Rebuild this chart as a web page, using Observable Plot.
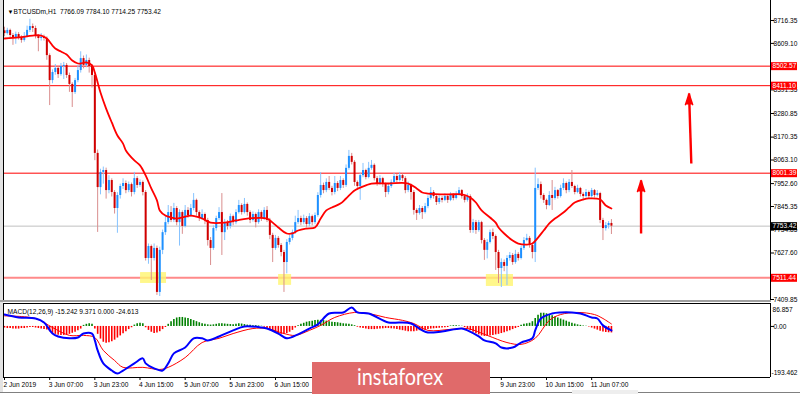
<!DOCTYPE html>
<html><head><meta charset="utf-8">
<script src="https://cdn.jsdelivr.net/npm/d3@7"></script>
<script src="https://cdn.jsdelivr.net/npm/@observablehq/plot@0.6"></script>
<style>
html,body{margin:0;padding:0;background:#fff;}
#wrap{position:relative;width:800px;height:394px;overflow:hidden;background:#fff;}
#wrap svg{position:absolute;left:0;}
.chrome{position:absolute;}
</style></head><body>
<div id="wrap"></div>
<script>
// ---------- data ----------
const opens = [8668,8655,8670,8646,8632,8651,8637,8623,8641,8670,
8688,8679,8641,8632,8637,8632,8552,8435,8473,8492,
8463,8501,8506,8459,8417,8379,8435,8482,8538,8506,
8529,8501,8459,8094,7934,8005,8014,7920,7967,7911,
7836,7897,7939,7953,7920,7948,7911,7976,7944,7958,
7911,7602,7658,7602,7649,7443,7640,7723,7770,7817,
7780,7836,7770,7817,7752,7827,7803,7836,7874,7817,
7789,7808,7780,7686,7649,7742,7789,7817,7723,7770,
7752,7798,7770,7817,7850,7817,7855,7817,7780,7808,
7770,7817,7789,7827,7780,7710,7649,7696,7663,7630,
7583,7677,7696,7723,7770,7789,7770,7789,7761,7798,
7770,7803,7897,7944,7920,7958,7930,7911,7953,7930,
7967,7944,8024,8080,8052,7958,7939,7990,8014,7981,
8024,8038,7976,7953,7976,7948,7911,7939,7958,7986,
7967,7990,7976,7920,7944,7911,7827,7813,7836,7817,
7845,7883,7911,7892,7864,7883,7874,7892,7874,7897,
7883,7902,7920,7892,7874,7892,7733,7770,7733,7770,
7686,7640,7677,7723,7705,7630,7555,7583,7565,7602,
7616,7583,7621,7602,7649,7686,7696,7663,7630,7930,
7948,7897,7874,7850,7897,7883,7920,7892,7930,7953,
7920,7958,7939,7911,7930,7902,7892,7911,7892,7920,
7897,7906,7780,7742,7756,7766.09];
const highs = [8685,8680,8676,8655,8662,8660,8645,8660,8690,8722,
8700,8690,8650,8655,8648,8640,8560,8485,8510,8500,
8515,8520,8515,8470,8425,8445,8505,8570,8550,8555,
8540,8510,8470,8110,8020,8030,8025,7990,7975,7920,
7910,7950,7975,7965,7960,7955,8005,7985,7970,7965,
7920,7670,7665,7670,7660,7655,7735,7800,7850,7845,
7860,7845,7830,7825,7850,7840,7855,7906,7880,7825,
7830,7815,7790,7700,7755,7800,7840,7906,7785,7780,
7810,7805,7830,7874,7858,7883,7862,7825,7820,7815,
7830,7825,7840,7845,7790,7720,7710,7705,7672,7640,
7690,7710,7735,7800,7827,7800,7805,7798,7812,7805,
7815,7910,8004,7955,7975,7986,7940,7986,7962,7986,
7975,8040,8108,8094,8060,7965,8000,8047,8020,8052,
8061,8045,7985,7990,7982,7955,7950,7970,8000,7995,
8005,7998,7985,7960,7950,7920,7835,7850,7845,7860,
7895,7934,7920,7898,7895,7892,7905,7898,7910,7905,
7915,7934,7925,7900,7905,7900,7785,7780,7780,7776,
7695,7690,7735,7740,7712,7640,7600,7595,7615,7630,
7625,7640,7630,7660,7700,7715,7705,7670,8025,7975,
7960,7905,7880,7915,7967,7935,7925,7945,7975,7960,
7972,8014,7945,7945,7935,7910,7925,7918,7930,7925,
7920,7912,7790,7770,7775,7784.10];
const lows = [8640,8648,8630,8600,8605,8625,8610,8615,8635,8660,
8660,8630,8570,8620,8620,8530,8318,8420,8460,8445,
8455,8440,8445,8380,8309,8370,8425,8470,8490,8495,
8470,8400,8060,7724,7900,7950,7880,7905,7890,7810,
7720,7880,7925,7905,7910,7890,7900,7930,7935,7895,
7590,7575,7499,7590,7429,7424,7620,7710,7760,7770,
7770,7755,7660,7715,7745,7790,7795,7825,7800,7775,
7780,7760,7660,7569,7640,7730,7780,7616,7686,7735,
7740,7755,7760,7810,7805,7810,7800,7765,7772,7745,
7762,7775,7780,7770,7690,7583,7640,7650,7610,7443,
7530,7665,7685,7715,7760,7755,7760,7745,7750,7755,
7760,7795,7885,7905,7910,7920,7895,7900,7915,7920,
7930,7935,8015,8040,7940,7920,7874,7980,7970,7975,
8015,7965,7940,7945,7935,7887,7900,7930,7950,7955,
7960,7962,7905,7910,7875,7805,7780,7805,7785,7810,
7835,7875,7880,7850,7855,7862,7868,7860,7868,7872,
7876,7895,7880,7862,7866,7720,7720,7715,7725,7670,
7593,7600,7670,7690,7546,7485,7466,7540,7475,7590,
7570,7575,7590,7595,7640,7680,7650,7600,7583,7920,
7880,7860,7830,7845,7827,7875,7880,7885,7920,7905,
7910,7930,7900,7905,7890,7878,7885,7880,7885,7885,
7890,7765,7686,7730,7740,7714.25];
const closes = [8655,8670,8646,8632,8651,8637,8623,8641,8670,8688,
8679,8641,8632,8637,8632,8552,8435,8473,8492,8463,
8501,8506,8459,8417,8379,8435,8482,8538,8506,8529,
8501,8459,8094,7934,8005,8014,7920,7967,7911,7836,
7897,7939,7953,7920,7948,7911,7976,7944,7958,7911,
7602,7658,7602,7649,7443,7640,7723,7770,7817,7780,
7836,7770,7817,7752,7827,7803,7836,7874,7817,7789,
7808,7780,7686,7649,7742,7789,7817,7723,7770,7752,
7798,7770,7817,7850,7817,7855,7817,7780,7808,7770,
7817,7789,7827,7780,7710,7649,7696,7663,7630,7583,
7677,7696,7723,7770,7789,7770,7789,7761,7798,7770,
7803,7897,7944,7920,7958,7930,7911,7953,7930,7967,
7944,8024,8080,8052,7958,7939,7990,8014,7981,8024,
8038,7976,7953,7976,7948,7911,7939,7958,7986,7967,
7990,7976,7920,7944,7911,7827,7813,7836,7817,7845,
7883,7911,7892,7864,7883,7874,7892,7874,7897,7883,
7902,7920,7892,7874,7892,7733,7770,7733,7770,7686,
7640,7677,7723,7705,7630,7555,7583,7565,7602,7616,
7583,7621,7602,7649,7686,7696,7663,7630,7930,7948,
7897,7874,7850,7897,7883,7920,7892,7930,7953,7920,
7958,7939,7911,7930,7902,7892,7911,7892,7920,7897,
7906,7780,7742,7756,7766,7753.42];

// moving average (red line), read at sampled bars
const maIdx = [0,5,10,13,15,17,18,20,22,24,26,27,29,31,32,33,34,36,38,40,42,43,46,48,50,52,54,55,57,59,61,63,66,68,70,73,78,82,86,93,95,97,100,102,104,107,110,112,114,116,119,121,124,126,128,130,136,143,146,148,150,157,162,165,167,169,172,174,175,177,180,182,185,187,189,191,193,195,198,200,202,205,207,211,213,215];
const maVal = [8632,8637,8646,8646,8632,8599,8585,8571,8557,8529,8515,8515,8520,8506,8473,8426,8379,8304,8239,8178,8140,8108,8061,8038,7991,7930,7874,7827,7803,7794,7789,7794,7803,7798,7789,7770,7770,7780,7789,7789,7770,7747,7719,7719,7733,7742,7747,7789,7827,7841,7859,7883,7920,7934,7944,7953,7953,7953,7930,7911,7906,7902,7902,7888,7864,7827,7794,7770,7747,7719,7686,7672,7667,7672,7700,7733,7766,7789,7817,7841,7864,7878,7883,7878,7850,7836];

// MACD(12,26,9)
const macdIdx = [0,5,11,14,17,19,23,26,28,31,32,33,35,38,40,42,46,49,50,53,56,58,60,64,67,70,72,76,81,85,91,93,97,100,104,108,111,115,120,123,125,129,136,140,144,148,150,155,162,164,168,170,174,176,180,183,187,188,190,194,197,201,204,208,210,212,215];
const macdVal = [45,34,30,15,-27,-38,-45,-42,-27,-27,-53,-91,-140,-167,-178,-167,-140,-121,-140,-159,-167,-140,-102,-80,-45,-45,-53,-38,-15,0,-4,-8,-27,-45,-30,-8,8,49,53,72,53,49,15,15,11,-15,-23,-19,-8,-15,-38,-53,-64,-80,-80,-61,-45,-15,30,49,53,53,49,34,30,4,-15.242];
const sigIdx = [0,11,17,23,28,32,35,39,42,49,55,58,64,70,76,81,88,93,99,103,108,112,117,124,129,135,141,145,150,158,164,171,178,183,188,193,197,203,209,212,215];
const sigVal = [40,30,-4,-34,-34,-42,-91,-129,-155,-155,-163,-155,-118,-61,-45,-27,-8,-8,-27,-34,-15,4,34,53,49,34,23,11,-15,-11,-8,-34,-61,-68,-45,23,45,53,45,30,9.371];
const hist = [
-6,-8,-8,-10,-10,-10,-8,-8,-6,-4,-4,-6,-8,-10,-12,-14,
-20,-26,-30,-33,-34,-34,-32,-30,-26,-22,-16,-10,
4,8,10,8,
-10,-30,-48,-60,-64,-62,-58,-52,-44,-36,-28,-20,-12,-5,
5,10,12,10,
-5,-15,-22,-27,-25,-20,-12,-4,
8,18,26,32,34,34,32,30,26,22,18,14,10,8,
6,5,6,8,10,10,9,8,7,6,8,10,9,7,5,4,3,3,2,1,
-3,-8,-14,-20,-25,-28,-30,-30,-27,-22,-15,-6,
3,8,12,16,18,20,22,23,23,22,20,18,16,15,14,12,10,9,8,6,3,
-3,-6,-8,-10,-12,-12,-12,-11,-10,-9,-8,-8,-9,-10,-12,-14,
-16,-18,-20,-20,-20,-18,-16,-15,-14,-12,-10,-9,-8,-7,-6,-5,-4,
2,3,3,2,1,
-4,-10,-16,-22,-28,-32,-36,-38,-38,-36,-34,-32,-30,-27,-24,-20,-16,-12,-8,-4,
4,8,10,12,18,30,42,50,50,48,44,40,36,32,28,24,20,16,12,9,6,4,
2,1,-2,
-6,-10,-14,-18,-21,-23,-24,-24.613];

// levels, labels, annotations
const resistLevels = [8502.57, 8411.10, 8001.39];
const supportLevel = 7511.44;
const lastPrice = 7753.42;
const priceTicks = [8716.35, 8609.10, 8391.35, 8280.85, 8170.35, 8063.10, 7952.60, 7845.35, 7734.85, 7627.60, 7409.85];
const timeTickIdx = [0,16,32,48,64,80,96,112,128,144,160,176,192,208];
// labels that are visible (the others sit under the watermark)
const timeIdx = [0,16,32,48,64,80,96,176,192,208];
const timeLabels = ["2 Jun 2019","3 Jun 07:00","3 Jun 23:00","4 Jun 15:00","5 Jun 07:00","5 Jun 23:00","6 Jun 15:00","9 Jun 23:00","10 Jun 15:00","11 Jun 07:00"];
const zoneX1 = [48.2, 97.1, 170.7];
const zoneX2 = [57.4, 101.7, 180.3];
const zoneY1 = [7485, 7476, 7471];
const zoneY2 = [7536, 7527, 7527];
const arrowX1 = [243.3, 225.5];
const arrowY1 = [8047, 7719];
const arrowX2 = [242.5, 225.5];
const arrowY2 = [8374, 7967];
const titleText = "BTCUSDm,H1  7766.09 7784.10 7714.25 7753.42";
const macdTitle = "MACD(12,26,9) -15.242 9.371 0.000 -24.613";
const macdMax = 86.857, macdMin = -193.462;

// ---------- build ----------
const candles = closes.map((c, i) => ({i, open: opens[i], high: highs[i], low: lows[i], close: c}));
const maPts = maIdx.map((i, k) => ({i, v: maVal[k]}));
const macdPts = macdIdx.map((i, k) => ({i, v: macdVal[k]}));
const sigPts = sigIdx.map((i, k) => ({i, v: sigVal[k]}));
const histPts = hist.map((v, i) => ({i, v}));
const zones = zoneX1.map((x, k) => ({x1: x, x2: zoneX2[k], y1: zoneY1[k], y2: zoneY2[k]}));
const arrows = arrowX1.map((x, k) => ({x1: x, y1: arrowY1[k], x2: arrowX2[k], y2: arrowY2[k]}));

const xDomain = [-0.354, 271.35];
const pxPerBar = 767 / (xDomain[1] - xDomain[0]);
const bx1 = xDomain[1] + 1 / pxPerBar;
const bx2 = xDomain[1] + 27 / pxPerBar;
const FONT = "'Liberation Sans', Arial, sans-serif";
const baseStyle = {fontFamily: FONT, fontSize: "6.6px", background: "transparent", overflow: "visible", color: "#000"};
const isUp = d => d.close >= d.open;

const main = Plot.plot({
  width: 800, height: 302,
  marginLeft: 3, marginRight: 30, marginTop: 0, marginBottom: 0,
  style: baseStyle,
  x: {domain: xDomain, axis: null},
  y: {domain: [7395.85, 8810], axis: "right", ticks: priceTicks, tickFormat: d => d.toFixed(2), tickSize: 3, tickPadding: 0, label: null},
  marks: [
    Plot.ruleY(resistLevels, {y: d => d, stroke: "#ff0000", strokeWidth: 1}),
    Plot.ruleY([supportLevel], {y: d => d, stroke: "#ff8a8a", strokeWidth: 2}),
    Plot.ruleY([lastPrice], {y: d => d, stroke: "#c0c0c0", strokeWidth: 1}),
    Plot.rect(zones, {x1: "x1", x2: "x2", y1: "y1", y2: "y2", fill: "#fff56e", fillOpacity: 0.8}),
    Plot.ruleX(candles, {x: "i", y1: "low", y2: "high", stroke: d => isUp(d) ? "#86c3ff" : "#d98e8e", strokeWidth: 1}),
    Plot.ruleX(candles, {x: "i", y1: "open", y2: "close", stroke: d => isUp(d) ? "#1e90ff" : "#d00000", strokeWidth: 2}),
    Plot.line(maPts, {x: "i", y: "v", stroke: "#ff0000", strokeWidth: 1.8, curve: "catmull-rom"}),
    Plot.link(arrows, {x1: "x1", y1: "y1", x2: "x2", y2: "y2", stroke: "#ff0000", strokeWidth: 2.4}),
    Plot.vector(arrows, {x: "x2", y: "y2", shape: "spike", length: 11, r: 3.6, anchor: "end", fill: "#ff0000", stroke: "#ff0000"}),
    Plot.ruleX(xDomain, {x: d => d, stroke: "#000", strokeWidth: 1}),
    Plot.ruleY(resistLevels.concat([supportLevel]), {y: d => d, x1: bx1, x2: bx2, stroke: "#ff0000", strokeWidth: 8}),
    Plot.ruleY([lastPrice], {y: d => d, x1: bx1, x2: bx2, stroke: "#000", strokeWidth: 8}),
    Plot.text(resistLevels.concat([supportLevel, lastPrice]), {x: bx1, y: d => d, text: d => d.toFixed(2), textAnchor: "start", dx: 1, fill: "#fff"}),
    Plot.text(["\u25BC"], {frameAnchor: "top-left", text: d => d, dx: 4, dy: 9, fontSize: 6, textAnchor: "start"}),
    Plot.text([titleText], {frameAnchor: "top-left", text: d => d, dx: 10, dy: 9, textAnchor: "start"})
  ]
});
main.style.top = "0px";

const unitsPerPx = (macdMax - macdMin) / 74;
const macdPlot = Plot.plot({
  width: 800, height: 91,
  marginLeft: 3, marginRight: 30, marginTop: 0, marginBottom: 17,
  style: baseStyle,
  x: {domain: xDomain, axis: null},
  y: {domain: [macdMin, macdMax], axis: "right", ticks: [0], tickFormat: d => d.toFixed(2), tickSize: 3, tickPadding: 0, label: null},
  marks: [
    Plot.ruleX(histPts, {x: "i", y1: 0, y2: "v", stroke: d => d.v >= 0 ? "#008000" : "#ff0000", strokeWidth: 1.6}),
    Plot.line(sigPts, {x: "i", y: "v", stroke: "#ff0000", strokeWidth: 1, curve: "catmull-rom"}),
    Plot.line(macdPts, {x: "i", y: "v", stroke: "#0000ff", strokeWidth: 2, curve: "catmull-rom"}),
    Plot.ruleY([macdMax, macdMin], {y: d => d, stroke: "#000", strokeWidth: 1}),
    Plot.ruleX(xDomain, {x: d => d, stroke: "#000", strokeWidth: 1}),
    Plot.text([macdMax], {x: bx1, y: d => d, text: d => d.toFixed(3), textAnchor: "start", dx: 1, dy: 6}),
    Plot.text([macdMin], {x: bx1, y: d => d, text: d => d.toFixed(3), textAnchor: "start", dx: 0, dy: -5}),
    Plot.text([macdTitle], {frameAnchor: "top-left", text: d => d, dx: 4, dy: 6, textAnchor: "start"}),
    Plot.ruleX(timeTickIdx, {x: d => d, y1: macdMin, y2: macdMin - 3 * unitsPerPx, stroke: "#000"}),
    Plot.text(timeIdx, {x: d => d, y: macdMin, text: (d, k) => timeLabels[k], textAnchor: "start", dx: -1, dy: 7})
  ]
});
macdPlot.style.top = "303px";

const wrap = document.getElementById("wrap");
function chrome(css) { const d = document.createElement("div"); d.className = "chrome"; d.style.cssText = css; wrap.appendChild(d); return d; }
chrome("left:0;top:0;width:2.5px;height:392px;background:#e2e2e2;");
wrap.appendChild(main);
chrome("left:0;top:300px;width:771px;height:2px;background:#a0a0a0;");
wrap.appendChild(macdPlot);
chrome("left:0;top:392px;width:800px;height:1px;background:#808080;");
chrome("left:572px;top:390px;width:66px;height:4px;background:#eeeeee;");
const wm = chrome("left:312px;top:362px;width:178px;height:32px;background:#e06a6a;");
wm.innerHTML = '<svg width="178" height="32" style="position:absolute;left:0;top:0"><text x="45" y="23" textLength="86" lengthAdjust="spacingAndGlyphs" fill="#ffffff" font-family="Lato, \'Open Sans\', sans-serif" font-size="24">instaforex</text></svg>';
</script>
</body></html>
